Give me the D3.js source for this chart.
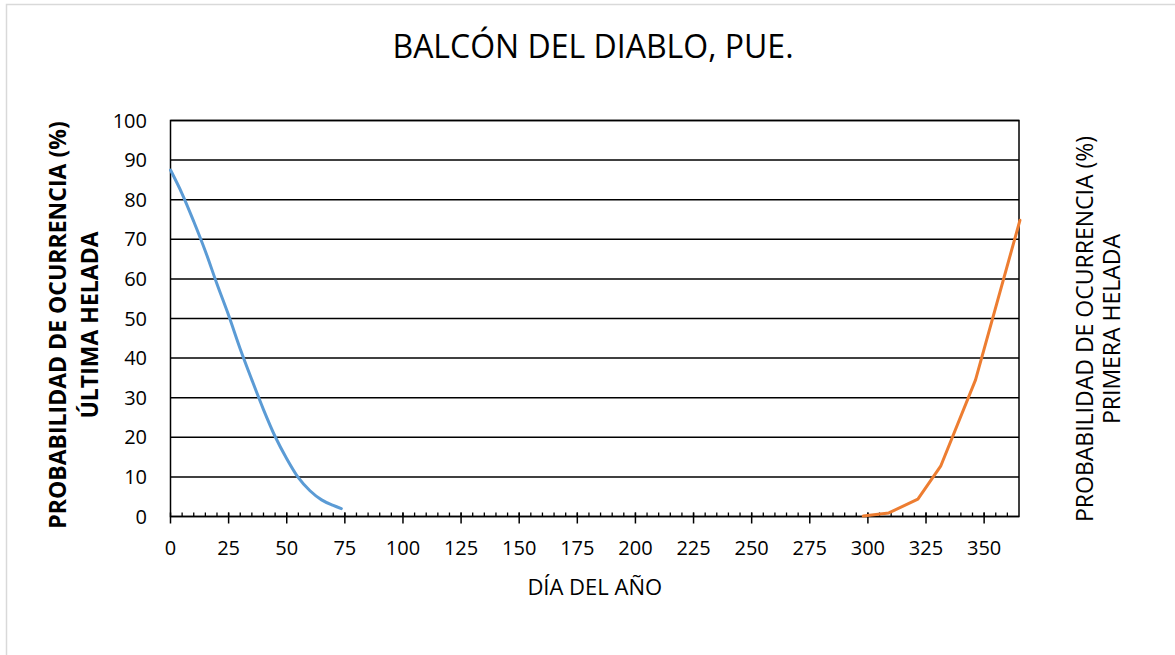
<!DOCTYPE html>
<html>
<head>
<meta charset="utf-8">
<script src="https://cdn.jsdelivr.net/npm/d3@7"></script>
<style>
  body { margin: 0; background: #fff; }
  text { font-family: "Open Sans", sans-serif; fill: #000; }
</style>
</head>
<body>
<div id="chart"></div>
<script>
// data
const ultimaDays   = [0, 5, 10, 15, 20, 25, 30, 35, 40, 45, 50, 55, 60, 65, 70, 73.5];
const ultimaValues = [87.5, 81.5, 74.5, 67, 58.7, 50.8, 42.3, 34.5, 27, 20.2, 14.6, 9.8, 6.5, 4.2, 2.8, 2.0];

const primeraDays   = [298, 309, 321.5, 331.3, 346.3, 365.4];
const primeraValues = [0.1, 0.9, 4.4, 12.7, 34.5, 74.8];

const xTicks = [0, 25, 50, 75, 100, 125, 150, 175, 200, 225, 250, 275, 300, 325, 350];
const yTicks = [0, 10, 20, 30, 40, 50, 60, 70, 80, 90, 100];

const width = 1175;
const height = 655;
const margin = { top: 120.5, right: 156, bottom: 138.5, left: 170.5 };

const svg = d3.select("#chart")
  .append("svg")
  .attr("width", width)
  .attr("height", height);

// outer chart border (only left/top visible in the reference)
svg.append("rect")
  .attr("x", 6.5).attr("y", 4.5)
  .attr("width", width + 20).attr("height", height + 20)
  .attr("fill", "none")
  .attr("stroke", "#d9d9d9")
  .attr("stroke-width", 1.5);

const x = d3.scaleLinear().domain([0, 365]).range([margin.left, width - margin.right]);
const y = d3.scaleLinear().domain([0, 100]).range([height - margin.bottom, margin.top]);

// gridlines
svg.append("g")
  .selectAll("line")
  .data(yTicks)
  .join("line")
  .attr("x1", x(0)).attr("x2", x(365))
  .attr("y1", d => y(d)).attr("y2", d => y(d))
  .attr("stroke", "#000")
  .attr("stroke-width", 1.5);

// plot frame
svg.append("rect")
  .attr("x", x(0)).attr("y", y(100))
  .attr("width", x(365) - x(0)).attr("height", y(0) - y(100))
  .attr("fill", "none")
  .attr("stroke", "#000")
  .attr("stroke-width", 1.5);

// minor ticks every 5 days
svg.append("g")
  .selectAll("line")
  .data(d3.range(5, 365, 5))
  .join("line")
  .attr("x1", d => x(d)).attr("x2", d => x(d))
  .attr("y1", y(0) - 4).attr("y2", y(0))
  .attr("stroke", "#000")
  .attr("stroke-width", 1.3);

// major ticks
svg.append("g")
  .selectAll("line")
  .data(xTicks)
  .join("line")
  .attr("x1", d => x(d)).attr("x2", d => x(d))
  .attr("y1", y(0) - 4).attr("y2", y(0) + 7)
  .attr("stroke", "#000")
  .attr("stroke-width", 1.5);

// tick labels
svg.append("g")
  .selectAll("text")
  .data(xTicks)
  .join("text")
  .attr("x", d => x(d))
  .attr("y", y(0) + 38.5)
  .attr("text-anchor", "middle")
  .attr("font-size", 20)
  .text(d => d);

svg.append("g")
  .selectAll("text")
  .data(yTicks)
  .join("text")
  .attr("x", 147)
  .attr("y", d => y(d) + 7)
  .attr("text-anchor", "end")
  .attr("font-size", 20)
  .text(d => d);

// series
const line = d3.line()
  .x(d => x(d[0]))
  .y(d => y(d[1]));

svg.append("path")
  .datum(d3.zip(ultimaDays, ultimaValues))
  .attr("d", line.curve(d3.curveMonotoneX))
  .attr("fill", "none")
  .attr("stroke", "#5b9bd5")
  .attr("stroke-width", 3)
  .attr("stroke-linecap", "round");

svg.append("path")
  .datum(d3.zip(primeraDays, primeraValues))
  .attr("d", d3.line().x(d => x(d[0])).y(d => y(d[1])))
  .attr("fill", "none")
  .attr("stroke", "#ed7d31")
  .attr("stroke-width", 3)
  .attr("stroke-linecap", "round")
  .attr("stroke-linejoin", "round");

// titles
svg.append("text")
  .attr("x", 593).attr("y", 58)
  .attr("text-anchor", "middle")
  .attr("font-size", 32)
  .text("BALCÓN DEL DIABLO, PUE.");

svg.append("text")
  .attr("x", (x(0) + x(365)) / 2).attr("y", 595)
  .attr("text-anchor", "middle")
  .attr("font-size", 22)
  .text("DÍA DEL AÑO");

const leftTitle = svg.append("text")
  .attr("transform", "translate(57,325) rotate(-90)")
  .attr("text-anchor", "middle")
  .attr("font-size", 23)
  .attr("font-weight", "bold");
leftTitle.append("tspan").attr("x", 0).attr("y", 9).text("PROBABILIDAD DE OCURRENCIA (%)");
leftTitle.append("tspan").attr("x", 0).attr("y", 41).text("ÚLTIMA HELADA");

const rightTitle = svg.append("text")
  .attr("transform", "translate(1085,329) rotate(-90)")
  .attr("text-anchor", "middle")
  .attr("font-size", 23);
rightTitle.append("tspan").attr("x", 0).attr("y", 8).text("PROBABILIDAD DE OCURRENCIA (%)");
rightTitle.append("tspan").attr("x", 0).attr("y", 35).text("PRIMERA HELADA");
</script>
</body>
</html>
